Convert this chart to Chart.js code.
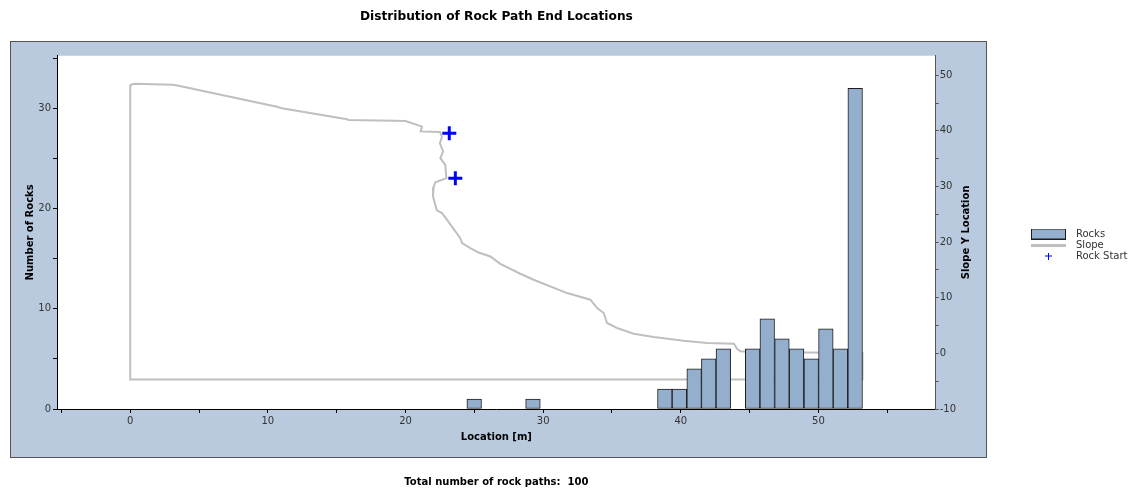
<!DOCTYPE html>
<html>
<head>
<meta charset="utf-8">
<script src="https://cdn.jsdelivr.net/npm/chart.js@4.4.0/dist/chart.umd.min.js"></script>
<style>
  html, body { margin: 0; padding: 0; background: #fff; }
</style>
</head>
<body>
<canvas id="rockChart" width="1133" height="490"></canvas>
<script>
// histogram of path end locations, bins ~1.064 m wide (only bins that hold rocks)
const binCenters = [24.99, 29.26, 38.84, 39.90, 40.97, 42.03, 43.09, 45.22, 46.28, 47.35, 48.41, 49.48, 50.54, 51.60, 52.67];
const rockCounts = [1, 1, 2, 2, 4, 5, 6, 6, 9, 7, 6, 5, 8, 6, 32];

// slope outline, location [m] vs slope Y location
const slopeX = [0, 0, 0.25, 3.1, 3.6, 10.66, 11.02, 15.75, 15.86, 19.14, 20.0, 21.2, 21.1, 22.5, 22.65, 22.5, 22.73, 22.53, 22.89, 22.97, 22.17, 22.04, 22.0, 22.27, 22.65, 23.02, 23.98, 24.11, 24.71, 25.31, 26.16, 26.89, 28.34, 29.31, 31.74, 33.43, 33.92, 34.4, 34.64, 35.37, 36.58, 38.03, 40.21, 41.91, 43.86, 44.1, 44.34, 45.06, 53.2, 53.2, 0];
const slopeY = [-4.7, 48.2, 48.45, 48.3, 48.05, 44.34, 44.06, 42.08, 41.96, 41.83, 41.78, 40.75, 39.9, 39.8, 38.96, 37.77, 36.27, 35.08, 33.88, 31.49, 30.74, 29.87, 28.19, 25.71, 25.21, 24.0, 20.72, 19.82, 18.92, 18.13, 17.41, 16.1, 14.31, 13.23, 10.84, 9.64, 8.15, 7.25, 5.46, 4.56, 3.54, 2.94, 2.28, 1.87, 1.74, 0.79, 0.36, 0.25, 0.07, -4.7, -4.7];

// rock start points
const rockStartX = [23.18, 23.62];
const rockStartY = [39.57, 31.49];

const totalPaths = 100;
const rightAxisTitle = "Slope Y Location";

const barFill = "#94aecd";
const barEdge = "#1e1e1e";
const slopeGray = "#bfbfbf";
const startBlue = "#0000ff";

Chart.defaults.font.family = "'DejaVu Sans', Verdana, sans-serif";
Chart.defaults.font.size = 10;

// small icons for the legend
function makeIcon(w, h, draw) {
  const c = document.createElement("canvas");
  c.width = w;
  c.height = h;
  draw(c.getContext("2d"));
  return c;
}
const legendIcons = [
  makeIcon(35, 11, (g) => {
    g.fillStyle = barFill;
    g.fillRect(0, 0, 35, 11);
    g.strokeStyle = barEdge;
    g.strokeRect(0.5, 0.5, 34, 10);
  }),
  makeIcon(35, 3, (g) => {
    g.fillStyle = slopeGray;
    g.fillRect(0, 0, 35, 3);
  }),
  makeIcon(7, 7, (g) => {
    g.fillStyle = startBlue;
    g.fillRect(3, 0, 1, 7);
    g.fillRect(0, 3, 7, 1);
  }),
];

const panelPlugin = {
  id: "panel",
  beforeDraw(chart) {
    const { ctx, chartArea: a } = chart;
    const l = Math.round(a.left) - 46.5;
    const t = Math.round(a.top) - 14.5;
    const r = Math.round(a.right) + 50.5;
    const b = Math.round(a.bottom) + 48.5;
    ctx.save();
    ctx.fillStyle = "#b9cade";
    ctx.fillRect(l, t, r - l, b - t);
    ctx.strokeStyle = "#555";
    ctx.lineWidth = 1;
    ctx.strokeRect(l, t, r - l, b - t);
    ctx.fillStyle = "#fff";
    ctx.fillRect(a.left, a.top, a.right - a.left, a.bottom - a.top);
    ctx.restore();
  },
  afterDraw(chart) {
    const { ctx, chartArea: a } = chart;
    ctx.save();
    ctx.translate(a.right + 31, (a.top + a.bottom) / 2);
    ctx.rotate(-Math.PI / 2);
    ctx.font = "bold 10px 'DejaVu Sans'";
    ctx.fillStyle = "#000";
    ctx.textAlign = "center";
    ctx.textBaseline = "middle";
    ctx.fillText(rightAxisTitle, 0, 0);
    ctx.restore();
  },
};

const everyFive = (scale) => {
  scale.ticks = scale.ticks.filter((t) => Math.abs(t.value / 5 - Math.round(t.value / 5)) < 1e-6);
};
const tensOnly = (v) => (Math.abs(v % 10) < 1e-6 ? v : "");

new Chart(document.getElementById("rockChart"), {
  type: "bar",
  data: {
    datasets: [
      {
        label: "Rocks",
        data: binCenters.map((x, i) => ({ x: x, y: rockCounts[i] })),
        backgroundColor: barFill,
        borderColor: barEdge,
        borderWidth: 1,
        borderSkipped: false,
        barPercentage: 1,
        categoryPercentage: 1,
        yAxisID: "yL",
        order: 0,
      },
      {
        type: "line",
        label: "Slope",
        data: slopeX.map((x, i) => ({ x: x, y: slopeY[i] })),
        borderColor: slopeGray,
        borderWidth: 2,
        borderCapStyle: "square",
        pointRadius: 0,
        tension: 0,
        fill: false,
        yAxisID: "yR",
        order: 2,
      },
      {
        type: "scatter",
        label: "Rock Start",
        data: rockStartX.map((x, i) => ({ x: x, y: rockStartY[i] })),
        pointStyle: "cross",
        pointRadius: 7,
        pointBorderWidth: 3,
        borderColor: startBlue,
        backgroundColor: startBlue,
        yAxisID: "yR",
        order: 1,
      },
    ],
  },
  options: {
    responsive: false,
    animation: false,
    events: [],
    layout: { padding: { left: 10, right: 0, top: 0, bottom: 0 } },
    scales: {
      x: {
        type: "linear",
        min: -5.32,
        max: 58.52,
        offset: false,
        grid: { offset: false, drawOnChartArea: false, tickLength: 4, color: "#000" },
        border: { color: "#000", width: 1 },
        ticks: { stepSize: 5, includeBounds: false, autoSkip: false, maxRotation: 0, padding: 2, color: "#333", callback: tensOnly },
        afterBuildTicks: everyFive,
        title: { display: true, text: "Location [m]", color: "#000", font: { weight: "bold", size: 10 }, padding: { top: 0, bottom: 14 } },
        afterFit: (s) => { s.height = 48; },
      },
      yL: {
        type: "linear",
        position: "left",
        min: 0,
        max: 35.25,
        grid: { drawOnChartArea: false, tickLength: 4, color: "#000" },
        border: { color: "#000", width: 1 },
        ticks: { stepSize: 5, includeBounds: false, autoSkip: false, padding: 2, color: "#333", callback: tensOnly },
        afterBuildTicks: everyFive,
        title: { display: true, text: "Number of Rocks", color: "#000", font: { weight: "bold", size: 10 }, padding: { top: 14, bottom: 0 } },
        afterFit: (s) => { s.width = 47; },
      },
      yR: {
        type: "linear",
        position: "right",
        min: -10,
        max: 53.5,
        grid: { drawOnChartArea: false, tickLength: 3, color: "#555" },
        border: { color: "#555", width: 1 },
        ticks: { stepSize: 5, includeBounds: false, autoSkip: false, padding: 1, color: "#333", callback: tensOnly },
        afterBuildTicks: everyFive,
        afterFit: (s) => { s.width = 89.3; },
      },
    },
    plugins: {
      tooltip: { enabled: false },
      title: {
        display: true,
        fullSize: false,
        text: "Distribution of Rock Path End Locations",
        color: "#000",
        font: { size: 12.2, weight: "bold", lineHeight: 1.25 },
        padding: { top: 9, bottom: 31.5 },
      },
      subtitle: {
        display: true,
        fullSize: false,
        position: "bottom",
        text: "Total number of rock paths:  " + totalPaths,
        color: "#000",
        font: { size: 10, weight: "bold", lineHeight: 1.2 },
        padding: { top: 19, bottom: 2 },
      },
      legend: {
        position: "right",
        maxWidth: 108,
        labels: {
          usePointStyle: true,
          pointStyleWidth: 45,
          boxHeight: 10,
          padding: 1,
          color: "#333",
          font: { size: 10 },
          sort: (a, b) => a.datasetIndex - b.datasetIndex,
          generateLabels(chart) {
            const items = Chart.defaults.plugins.legend.labels.generateLabels(chart);
            items.forEach((it) => { it.pointStyle = legendIcons[it.datasetIndex]; });
            return items;
          },
        },
      },
    },
  },
  plugins: [panelPlugin],
});
</script>
</body>
</html>
